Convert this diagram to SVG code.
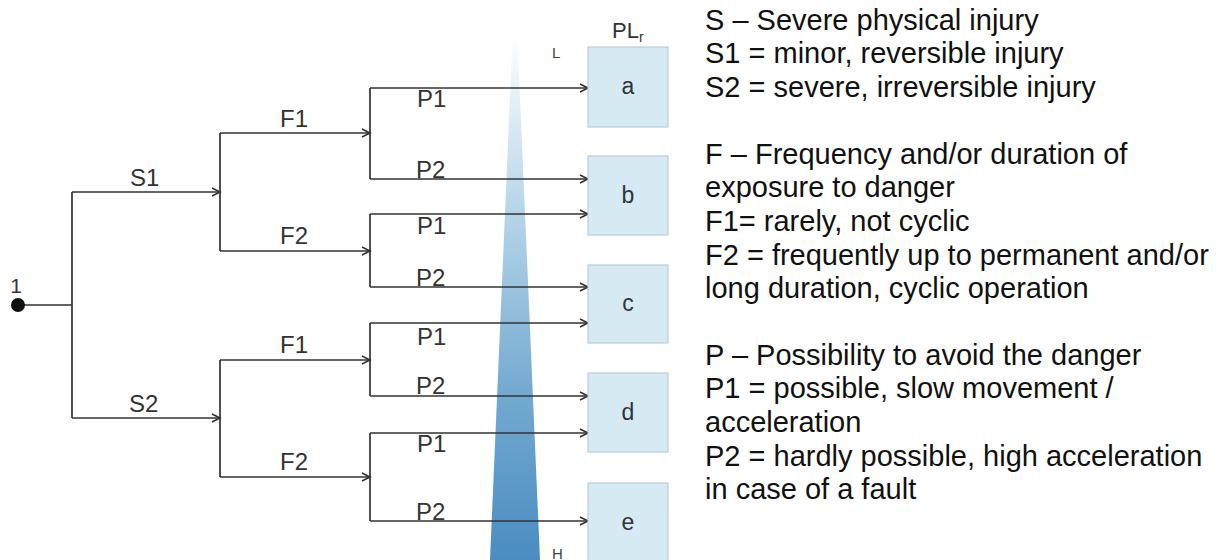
<svg xmlns="http://www.w3.org/2000/svg" width="1225" height="560" viewBox="0 0 1225 560">
<style>
.ln{fill:none;stroke:#333;stroke-width:1.7}
.arr{fill:none;stroke:#333;stroke-width:1.7;marker-end:url(#ah)}
.lbl{font-family:"Liberation Sans",Arial,sans-serif;font-size:24px;fill:#333}
.box{fill:#d6eaf4;stroke:#b9ced8;stroke-width:1.2}
.bl{font-family:"Liberation Sans",Arial,sans-serif;font-size:23px;fill:#333;text-anchor:middle}
.sm{font-family:"Liberation Sans",Arial,sans-serif;font-size:15px;fill:#444}
.lg{font-family:"Liberation Sans",Arial,sans-serif;font-size:29px;fill:#111}
</style>
<defs>
<marker id="ah" markerUnits="userSpaceOnUse" markerWidth="12" markerHeight="12" refX="9" refY="5" orient="auto">
<path d="M1,1 L9,5 L1,9" fill="none" stroke="#333" stroke-width="1.6"/>
</marker>
<linearGradient id="wedge" x1="0" y1="0" x2="0" y2="560" gradientUnits="userSpaceOnUse">
<stop offset="0.06" stop-color="#ffffff"/>
<stop offset="0.35" stop-color="#bcd9eb"/>
<stop offset="0.7" stop-color="#74aad1"/>
<stop offset="1" stop-color="#4a8cc1"/>
</linearGradient>
</defs>

<g id="risk-wedge">
<polygon points="515,-18 540,560 490,560" fill="url(#wedge)"/>
<text class="sm" x="552" y="58">L</text>
<text class="sm" x="552" y="559">H</text>
</g>

<g id="connectors">
<path class="ln" d="M18,305 H72 M72,192 V418"/>
<path class="arr" d="M72,192 H220"/>
<path class="arr" d="M72,418 H220"/>
<path class="ln" d="M220,133 V251 M220,360 V477"/>
<path class="arr" d="M220,133 H370"/>
<path class="arr" d="M220,251 H370"/>
<path class="arr" d="M220,360 H370"/>
<path class="arr" d="M220,477 H370"/>
<path class="ln" d="M370,88 V179 M370,214 V287 M370,323 V396 M370,433 V521"/>
<path class="arr" d="M370,88 H588"/>
<path class="arr" d="M370,179 H588"/>
<path class="arr" d="M370,214 H588"/>
<path class="arr" d="M370,287 H588"/>
<path class="arr" d="M370,323 H588"/>
<path class="arr" d="M370,396 H588"/>
<path class="arr" d="M370,433 H588"/>
<path class="arr" d="M370,521 H588"/>
</g>

<g id="root">
<circle cx="18" cy="305" r="7" fill="#111"/>
<text x="16" y="293" text-anchor="middle" style="font-family:'Liberation Sans',Arial,sans-serif;font-size:21px;fill:#333">1</text>
</g>

<g id="labels-s">
<text class="lbl" x="130" y="186">S1</text>
<text class="lbl" x="129" y="412">S2</text>
</g>
<g id="labels-f">
<text class="lbl" x="280" y="127">F1</text>
<text class="lbl" x="280" y="244">F2</text>
<text class="lbl" x="280" y="353">F1</text>
<text class="lbl" x="280" y="470">F2</text>
</g>
<g id="labels-p">
<text class="lbl" x="417" y="107">P1</text>
<text class="lbl" x="416" y="178">P2</text>
<text class="lbl" x="417" y="234">P1</text>
<text class="lbl" x="416" y="286">P2</text>
<text class="lbl" x="417" y="345">P1</text>
<text class="lbl" x="416" y="394">P2</text>
<text class="lbl" x="417" y="452">P1</text>
<text class="lbl" x="416" y="520">P2</text>
</g>

<g id="plr-header">
<text x="612" y="38" style="font-family:'Liberation Sans',Arial,sans-serif;font-size:22px;fill:#333">PL<tspan style="font-size:14px" dy="4">r</tspan></text>
</g>
<g id="box-a"><rect class="box" x="588" y="47" width="80" height="80"/><text class="bl" x="628" y="94">a</text></g>
<g id="box-b"><rect class="box" x="588" y="156" width="80" height="79"/><text class="bl" x="628" y="203">b</text></g>
<g id="box-c"><rect class="box" x="588" y="265" width="80" height="78"/><text class="bl" x="628" y="311">c</text></g>
<g id="box-d"><rect class="box" x="588" y="373" width="80" height="79"/><text class="bl" x="628" y="420">d</text></g>
<g id="box-e"><rect class="box" x="588" y="483" width="80" height="80"/><text class="bl" x="628" y="530">e</text></g>

<g id="legend">
<text class="lg" x="705" y="30">S – Severe physical injury</text>
<text class="lg" x="705" y="63">S1 = minor, reversible injury</text>
<text class="lg" x="705" y="97">S2 = severe, irreversible injury</text>
<text class="lg" x="705" y="164">F – Frequency and/or duration of</text>
<text class="lg" x="705" y="197">exposure to danger</text>
<text class="lg" x="705" y="231">F1= rarely, not cyclic</text>
<text class="lg" x="705" y="265">F2 = frequently up to permanent and/or</text>
<text class="lg" x="705" y="298">long duration, cyclic operation</text>
<text class="lg" x="705" y="365">P – Possibility to avoid the danger</text>
<text class="lg" x="705" y="398">P1 = possible, slow movement /</text>
<text class="lg" x="705" y="432">acceleration</text>
<text class="lg" x="705" y="466">P2 = hardly possible, high acceleration</text>
<text class="lg" x="705" y="499">in case of a fault</text>
</g>
</svg>
